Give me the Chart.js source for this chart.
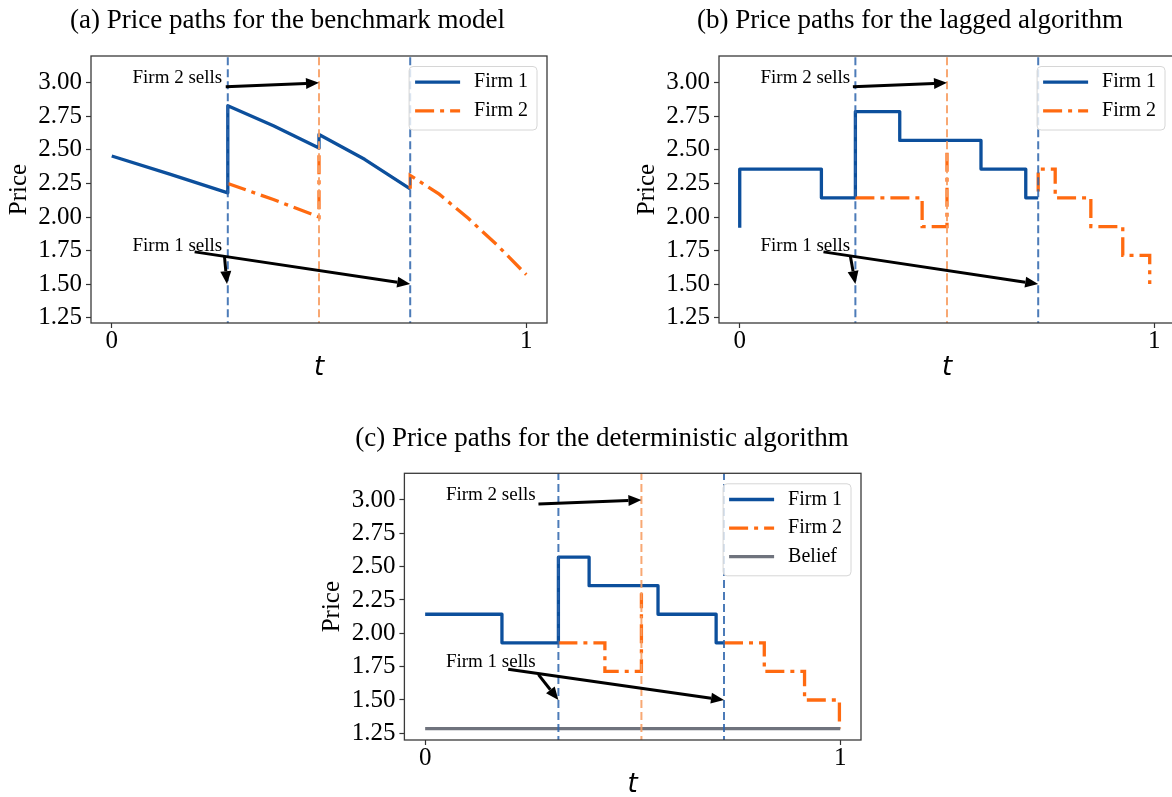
<!DOCTYPE html>
<html>
<head>
<meta charset="utf-8">
<script src="https://cdn.jsdelivr.net/npm/chart.js@4.4.0/dist/chart.umd.min.js"></script>
<style>
  html, body { margin: 0; padding: 0; background: #fff; overflow: hidden; width: 1172px; height: 797px; }
  canvas { position: absolute; }
</style>
</head>
<body>
<canvas id="chartA" width="575" height="395" style="left:0px;top:0px"></canvas>
<canvas id="chartB" width="560" height="395" style="left:630px;top:0px"></canvas>
<canvas id="chartC" width="580" height="400" style="left:312px;top:410px"></canvas>
<script>
// shared axis ticks
const xTicks = [0, 1];
const yTicks = [1.25, 1.5, 1.75, 2.0, 2.25, 2.5, 2.75, 3.0];

// (a) benchmark model
const benchFirm1T = [0, 0.14, 0.28, 0.28, 0.39, 0.5, 0.5, 0.61, 0.72];
const benchFirm1P = [2.455, 2.32, 2.18, 2.83, 2.68, 2.515, 2.615, 2.43, 2.21];
const benchFirm2T = [0.28, 0.39, 0.5, 0.5, 0.6, 0.72, 0.72, 0.79, 0.86, 0.93, 1.0];
const benchFirm2P = [2.25, 2.13, 2.0, 2.51, null, 2.21, 2.31, 2.17, 1.99, 1.79, 1.57];
const benchFirm1Sells = [0.28, 0.72];
const benchFirm2Sells = [0.5];

// (b) lagged algorithm
const laggedFirm1T = [0, 0, 0.197, 0.197, 0.279, 0.279, 0.386, 0.386, 0.582, 0.582, 0.69, 0.69, 0.72];
const laggedFirm1P = [1.92, 2.357, 2.357, 2.143, 2.143, 2.786, 2.786, 2.571, 2.571, 2.357, 2.357, 2.143, 2.143];
const laggedFirm2T = [0.279, 0.44, 0.44, 0.5, 0.5, 0.6, 0.72, 0.72, 0.761, 0.761, 0.847, 0.847, 0.924, 0.924, 0.989, 0.989];
const laggedFirm2P = [2.143, 2.143, 1.929, 1.929, 2.52, null, 2.19, 2.357, 2.357, 2.143, 2.143, 1.929, 1.929, 1.714, 1.714, 1.5];
const laggedFirm1Sells = [0.279, 0.72];
const laggedFirm2Sells = [0.5];

// (c) deterministic algorithm
const detFirm1T = [0, 0.185, 0.185, 0.321, 0.321, 0.395, 0.395, 0.561, 0.561, 0.701, 0.701, 0.72];
const detFirm1P = [2.143, 2.143, 1.929, 1.929, 2.571, 2.571, 2.357, 2.357, 2.143, 2.143, 1.929, 1.929];
const detFirm2T = [0.321, 0.433, 0.433, 0.521, 0.521, 0.6, 0.72, 0.817, 0.817, 0.914, 0.914, 0.998, 0.998];
const detFirm2P = [1.929, 1.929, 1.714, 1.714, 2.3, null, 1.929, 1.929, 1.714, 1.714, 1.5, 1.5, 1.286];
const detBeliefT = [0, 1];
const detBeliefP = [1.286, 1.286];
const detFirm1Sells = [0.321, 0.72];
const detFirm2Sells = [0.521];

// annotation arrows: [t from, price from, t to, price to]
const benchArrows = [[0.275, 2.97, 0.5, 3.0], [0.2, 1.74, 0.72, 1.5], [0.272, 1.705, 0.278, 1.5]];
const laggedArrows = [[0.273, 2.97, 0.5, 3.0], [0.202, 1.74, 0.72, 1.5], [0.267, 1.705, 0.279, 1.5]];
const detArrows = [[0.273, 2.97, 0.521, 3.0], [0.2, 1.73, 0.72, 1.5], [0.273, 1.69, 0.321, 1.5]];

const notes = [
    { text: 'Firm 2 sells', t: 0.05, p: 3.0 },
    { text: 'Firm 1 sells', t: 0.05, p: 1.75 }
];

const BLUE = '#0c4f9c';
const ORANGE = '#ff6a10';
const GREY = '#6f737d';
const SERIF = '"Liberation Serif", "Times New Roman", serif';

function toXY(ts, ps) {
    return ts.map((t, i) => ({ x: t, y: ps[i] }));
}

function vline(t, color) {
    return {
        data: [{ x: t, y: 0 }, { x: t, y: 5 }],
        borderColor: color,
        borderWidth: 2,
        borderDash: [8, 4],
        pointRadius: 0,
        order: -1
    };
}

function drawArrow(ctx, x0, y0, x1, y1) {
    const ang = Math.atan2(y1 - y0, x1 - x0);
    const headLen = 13, headHalf = 5.5;
    const bx = x1 - headLen * Math.cos(ang);
    const by = y1 - headLen * Math.sin(ang);
    ctx.strokeStyle = '#000';
    ctx.lineWidth = 3;
    ctx.beginPath();
    ctx.moveTo(x0, y0);
    ctx.lineTo(bx, by);
    ctx.stroke();
    ctx.fillStyle = '#000';
    ctx.beginPath();
    ctx.moveTo(x1, y1);
    ctx.lineTo(bx + headHalf * Math.sin(ang), by - headHalf * Math.cos(ang));
    ctx.lineTo(bx - headHalf * Math.sin(ang), by + headHalf * Math.cos(ang));
    ctx.closePath();
    ctx.fill();
}

function roundRect(ctx, x, y, w, h, r) {
    ctx.beginPath();
    ctx.moveTo(x + r, y);
    ctx.arcTo(x + w, y, x + w, y + h, r);
    ctx.arcTo(x + w, y + h, x, y + h, r);
    ctx.arcTo(x, y + h, x, y, r);
    ctx.arcTo(x, y, x + w, y, r);
    ctx.closePath();
}

// frame, annotations, legend and panel title
const decorPlugin = {
    id: 'decor',
    afterDatasetsDraw(chart, args, opts) {
        const { ctx, chartArea: a } = chart;
        const xs = chart.scales.x, ys = chart.scales.y;
        ctx.save();

        ctx.strokeStyle = '#3a3a3a';
        ctx.lineWidth = 1.3;
        ctx.strokeRect(a.left, a.top, a.right - a.left, a.bottom - a.top);

        opts.arrows.forEach(([t0, p0, t1, p1]) => {
            drawArrow(ctx, xs.getPixelForValue(t0), ys.getPixelForValue(p0), xs.getPixelForValue(t1), ys.getPixelForValue(p1));
        });

        ctx.font = '19px ' + SERIF;
        ctx.fillStyle = '#000';
        ctx.textAlign = 'left';
        ctx.textBaseline = 'alphabetic';
        notes.forEach(n => ctx.fillText(n.text, xs.getPixelForValue(n.t), ys.getPixelForValue(n.p)));

        // legend in the upper right corner
        const items = chart.data.datasets.filter(d => d.label);
        ctx.font = '20px ' + SERIF;
        const textW = Math.max(...items.map(d => ctx.measureText(d.label).width));
        const boxW = 65 + textW + 9;
        const boxH = 6.5 + 28.5 * items.length;
        const bx = a.right - 10 - boxW;
        const by = a.top + 10.5;
        roundRect(ctx, bx, by, boxW, boxH, 4);
        ctx.fillStyle = 'rgba(255,255,255,0.8)';
        ctx.fill();
        ctx.strokeStyle = '#d6d6d6';
        ctx.lineWidth = 1;
        ctx.stroke();
        items.forEach((d, i) => {
            const cy = by + 15.7 + i * 28.6;
            ctx.strokeStyle = d.borderColor;
            ctx.lineWidth = d.borderWidth;
            ctx.setLineDash(d.borderDash || []);
            ctx.beginPath();
            ctx.moveTo(bx + 6, cy);
            ctx.lineTo(bx + 51, cy);
            ctx.stroke();
            ctx.setLineDash([]);
            ctx.fillStyle = '#000';
            ctx.textBaseline = 'middle';
            ctx.fillText(d.label, bx + 65, cy);
        });

        ctx.font = '27px ' + SERIF;
        ctx.textAlign = 'center';
        ctx.textBaseline = 'alphabetic';
        ctx.fillStyle = '#000';
        ctx.fillText(opts.title, opts.titleX, opts.titleY);

        ctx.restore();
    }
};

function buildChart(id, cfg) {
    const datasets = [];
    cfg.firm1Sells.forEach(t => datasets.push(vline(t, 'rgba(45,100,172,0.85)')));
    cfg.firm2Sells.forEach(t => datasets.push(vline(t, 'rgba(247,158,100,0.9)')));
    datasets.push({
        label: 'Firm 1', data: cfg.firm1, borderColor: BLUE, borderWidth: 3.3,
        pointRadius: 0, borderJoinStyle: 'round', order: 2
    });
    datasets.push({
        label: 'Firm 2', data: cfg.firm2, borderColor: ORANGE, borderWidth: 3.3,
        borderDash: [19, 6, 4, 6], pointRadius: 0, order: 1
    });
    if (cfg.belief) {
        datasets.push({
            label: 'Belief', data: cfg.belief, borderColor: GREY, borderWidth: 3.3,
            pointRadius: 0, order: 0
        });
    }

    return new Chart(document.getElementById(id), {
        type: 'line',
        data: { datasets: datasets },
        options: {
            responsive: false,
            animation: false,
            events: [],
            layout: { padding: { left: 0, right: cfg.padRight, top: cfg.padTop, bottom: 0 } },
            plugins: {
                legend: { display: false },
                tooltip: { enabled: false },
                decor: { arrows: cfg.arrows, title: cfg.title, titleX: cfg.titleX, titleY: cfg.titleY }
            },
            scales: {
                x: {
                    type: 'linear',
                    min: -0.05,
                    max: 1.05,
                    afterBuildTicks: s => { s.ticks = xTicks.map(v => ({ value: v })); },
                    afterFit: s => { s.height = cfg.xHeight; },
                    ticks: {
                        color: '#000', padding: 1,
                        font: { family: SERIF, size: 25, lineHeight: 1 },
                        callback: v => String(v)
                    },
                    grid: { drawOnChartArea: false, drawTicks: true, tickLength: 5, tickColor: '#333', tickWidth: 1.2 },
                    border: { display: false },
                    title: {
                        display: true, text: 't', color: '#000',
                        font: { family: '"DejaVu Sans", sans-serif', style: 'italic', size: 26, lineHeight: 1 },
                        padding: { top: 0, bottom: cfg.tPad }
                    }
                },
                y: {
                    min: cfg.yMin,
                    max: 3.2,
                    afterBuildTicks: s => { s.ticks = yTicks.map(v => ({ value: v })); },
                    afterFit: s => { s.width = cfg.yWidth; },
                    ticks: {
                        color: '#000', padding: 4,
                        font: { family: SERIF, size: 25, lineHeight: 1 },
                        callback: v => v.toFixed(2)
                    },
                    grid: { drawOnChartArea: false, drawTicks: true, tickLength: 5, tickColor: '#333', tickWidth: 1.2 },
                    border: { display: false },
                    title: {
                        display: true, text: 'Price', color: '#000',
                        font: { family: SERIF, size: 25, lineHeight: 1 },
                        padding: { top: cfg.yWidth - 72 - 12.5, bottom: 0 }
                    }
                }
            }
        },
        plugins: [decorPlugin]
    });
}

buildChart('chartA', {
    firm1: toXY(benchFirm1T, benchFirm1P),
    firm2: toXY(benchFirm2T, benchFirm2P),
    firm1Sells: benchFirm1Sells, firm2Sells: benchFirm2Sells,
    arrows: benchArrows,
    title: '(a) Price paths for the benchmark model', titleX: 287.5, titleY: 28,
    padTop: 56, padRight: 28, yWidth: 91, xHeight: 72, tPad: 14, yMin: 1.21
});

buildChart('chartB', {
    firm1: toXY(laggedFirm1T, laggedFirm1P),
    firm2: toXY(laggedFirm2T, laggedFirm2P),
    firm1Sells: laggedFirm1Sells, firm2Sells: laggedFirm2Sells,
    arrows: laggedArrows,
    title: '(b) Price paths for the lagged algorithm', titleX: 280, titleY: 28,
    padTop: 56, padRight: 15, yWidth: 89, xHeight: 72, tPad: 14, yMin: 1.21
});

buildChart('chartC', {
    firm1: toXY(detFirm1T, detFirm1P),
    firm2: toXY(detFirm2T, detFirm2P),
    belief: toXY(detBeliefT, detBeliefP),
    firm1Sells: detFirm1Sells, firm2Sells: detFirm2Sells,
    arrows: detArrows,
    title: '(c) Price paths for the deterministic algorithm', titleX: 290, titleY: 36,
    padTop: 63.3, padRight: 31, yWidth: 92.4, xHeight: 70, tPad: 12, yMin: 1.2
});
</script>
</body>
</html>
